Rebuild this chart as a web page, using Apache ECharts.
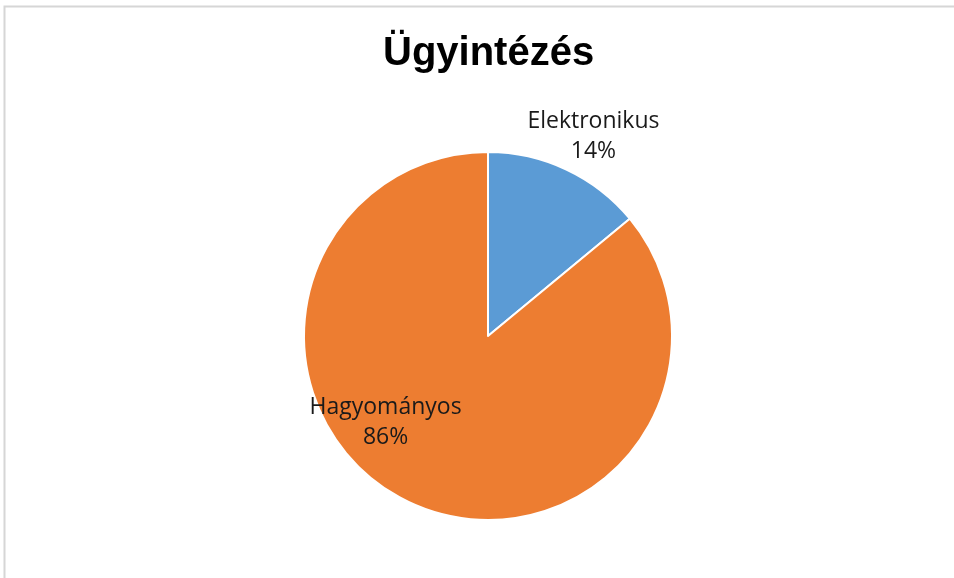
<!DOCTYPE html>
<html>
<head>
<meta charset="utf-8">
<script src="https://cdn.jsdelivr.net/npm/echarts@6/dist/echarts.min.js"></script>
<style>
html,body{margin:0;padding:0;background:#fff;}
#chart{width:954px;height:578px;}
</style>
</head>
<body>
<div id="chart"></div>
<script>
const titleText = 'Ügyintézés';
const categories = ['Elektronikus', 'Hagyományos'];
const values = [14, 86];
const colors = ['#5B9BD5', '#ED7D31'];

const chart = echarts.init(document.getElementById('chart'));
const labelOffsets = [[65, -114], [-62, 0]];
chart.setOption({
  backgroundColor: '#ffffff',
  animation: false,
  title: {
    text: titleText,
    left: 378,
    top: 29,
    textStyle: {fontFamily: 'Liberation Sans', fontWeight: 'bold', fontSize: 40, color: '#000'}
  },
  graphic: [{
    type: 'rect',
    shape: {x: 4.5, y: 6.5, width: 1000, height: 1000},
    style: {fill: 'none', stroke: '#d6d6d6', lineWidth: 2},
    silent: true
  }],
  series: [{
    type: 'pie',
    center: [488, 336],
    radius: [0, 184],
    startAngle: 90,
    clockwise: true,
    data: categories.map((c, i) => ({name: c, value: values[i], itemStyle: {color: colors[i]}})),
    itemStyle: {borderColor: '#ffffff', borderWidth: 2},
    label: {
      position: 'inside',
      formatter: '{b}\n{d}%',
      fontFamily: 'Open Sans',
      fontSize: 23,
      lineHeight: 30,
      color: '#1a1a1a',
      align: 'center'
    },
    labelLine: {show: false},
    labelLayout: function (p) {
      const o = labelOffsets[p.dataIndex];
      return {dx: o[0], dy: o[1]};
    },
    emphasis: {disabled: true}
  }]
});
</script>
</body>
</html>
